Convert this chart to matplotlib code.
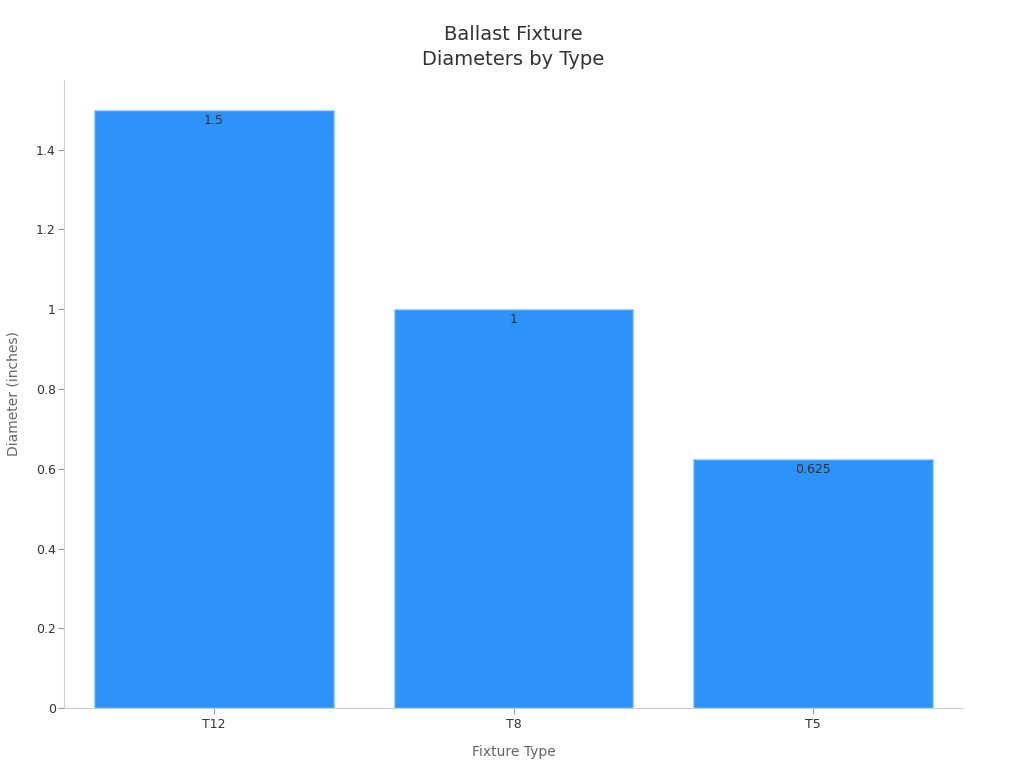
import matplotlib.pyplot as plt
from matplotlib.ticker import FuncFormatter

# Fixture diameters (inches)
fixture_types = ['T12', 'T8', 'T5']
diameters = [1.5, 1.0, 0.625]

fig = plt.figure(figsize=(10.24, 7.68), dpi=100)
ax = fig.add_axes([0.0625, 0.078, 0.878, 0.818])

bars = ax.bar(fixture_types, diameters, width=0.8, color='#2E93F9',
              edgecolor='#A9D3FB', linewidth=1)

# value labels just inside the top of each bar
for rect, val in zip(bars, diameters):
    ax.annotate('%g' % val, (rect.get_x() + rect.get_width() / 2, rect.get_height()),
                xytext=(0, -3), textcoords='offset points', ha='center', va='top',
                fontsize=9, color='#333333')

ax.set_xlim(-0.5, 2.5)
ax.set_ylim(0, 1.575)
ax.set_yticks([0, 0.2, 0.4, 0.6, 0.8, 1.0, 1.2, 1.4])
ax.yaxis.set_major_formatter(FuncFormatter(lambda v, p: '%g' % round(v, 2)))

ax.set_xlabel('Fixture Type', fontsize=10, color='#666666', labelpad=10)
ax.set_ylabel('Diameter (inches)', fontsize=10, color='#666666', labelpad=11)
ax.set_title('Ballast Fixture\nDiameters by Type', fontsize=14, color='#333333',
             pad=11, linespacing=1.4)

for side in ['top', 'right']:
    ax.spines[side].set_visible(False)
for side in ['left', 'bottom']:
    ax.spines[side].set_color('#CCCCCC')
ax.tick_params(colors='#999999', labelcolor='#333333', labelsize=9, length=4, pad=2)
ax.tick_params(axis='x', pad=3)

fig.savefig('out.png', dpi=100)
